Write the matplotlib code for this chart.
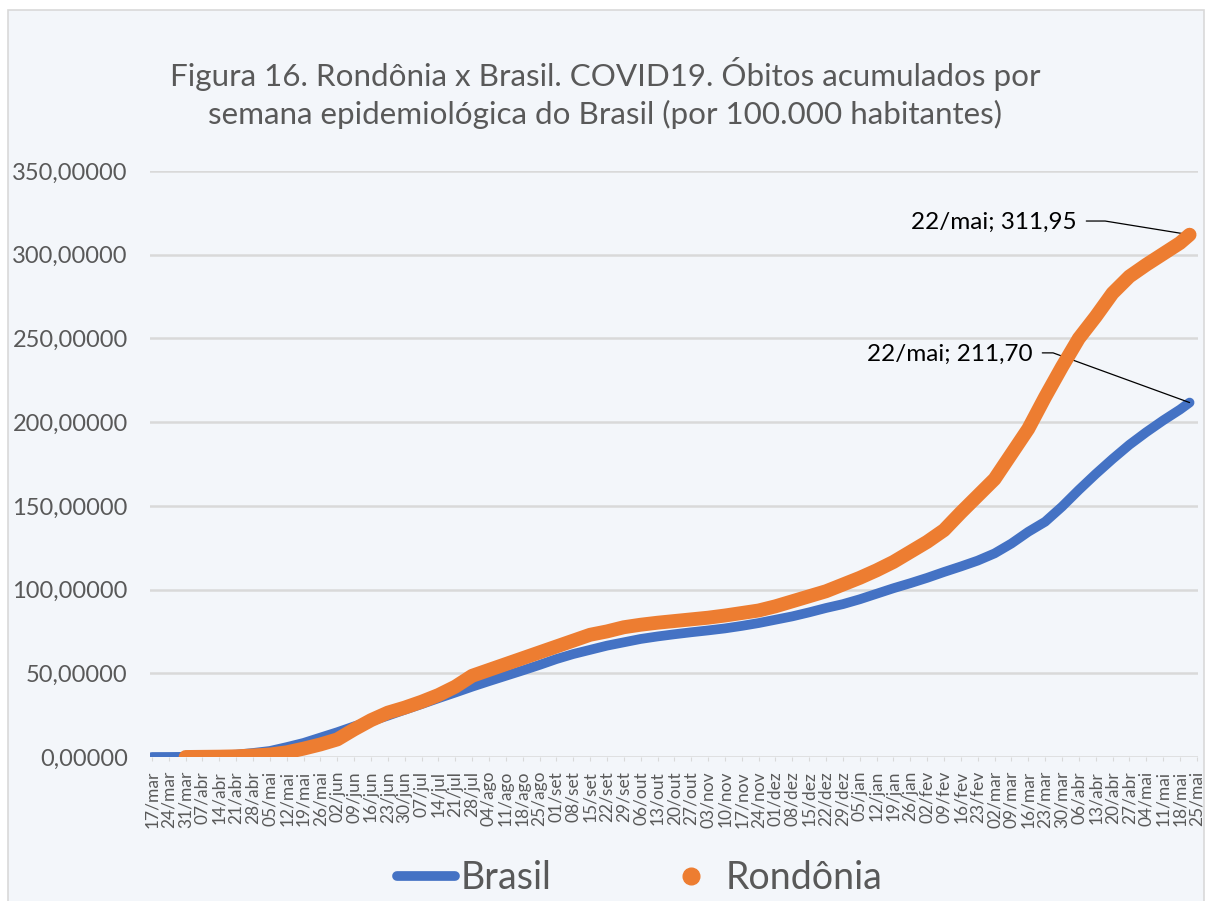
import numpy as np
import matplotlib
matplotlib.use("Agg")
import matplotlib.pyplot as plt
from matplotlib.lines import Line2D
from matplotlib.patches import Rectangle

# weekly axis labels (17/mar/2020 .. 25/mai/2021)
week_labels = ["17/mar", "24/mar", "31/mar", "07/abr", "14/abr", "21/abr", "28/abr", "05/mai",
               "12/mai", "19/mai", "26/mai", "02/jun", "09/jun", "16/jun", "23/jun", "30/jun",
               "07/jul", "14/jul", "21/jul", "28/jul", "04/ago", "11/ago", "18/ago", "25/ago",
               "01/set", "08/set", "15/set", "22/set", "29/set", "06/out", "13/out", "20/out",
               "27/out", "03/nov", "10/nov", "17/nov", "24/nov", "01/dez", "08/dez", "15/dez",
               "22/dez", "29/dez", "05/jan", "12/jan", "19/jan", "26/jan", "02/fev", "09/fev",
               "16/fev", "23/fev", "02/mar", "09/mar", "16/mar", "23/mar", "30/mar", "06/abr",
               "13/abr", "20/abr", "27/abr", "04/mai", "11/mai", "18/mai", "25/mai"]

# deaths per 100k, read at each weekly tick (Brasil from 17/mar, Rondonia from 31/mar)
brasil = [0.0, 0.02, 0.1, 0.4, 0.9, 1.4, 2.4, 3.6, 5.9, 8.4, 11.6, 14.8, 18.3, 21.4, 24.7,
          28.2, 31.6, 35.1, 38.5, 42.0, 45.3, 48.5, 51.7, 55.0, 58.5, 61.5, 64.0, 66.5, 68.5,
          70.5, 72.0, 73.3, 74.5, 75.6, 76.8, 78.3, 80.0, 82.0, 84.0, 86.4, 89.0, 91.3, 94.2,
          97.5, 100.8, 103.8, 107.0, 110.5, 113.8, 117.3, 121.6, 127.5, 134.5, 140.5, 149.5,
          159.5, 169.0, 178.0, 186.5, 194.0, 201.0, 207.5]
rondonia = [0.0, 0.1, 0.2, 0.4, 0.9, 1.5, 2.8, 5.0, 7.5, 10.5, 16.5, 22.0, 26.5, 29.5, 33.0,
            37.0, 42.0, 48.5, 52.0, 55.5, 59.0, 62.5, 66.0, 69.5, 73.0, 75.0, 77.5, 79.0, 80.2,
            81.2, 82.2, 83.2, 84.5, 86.0, 87.5, 90.0, 93.0, 96.0, 99.0, 103.0, 107.0, 111.5,
            116.5, 122.5, 128.5, 135.5, 146.0, 156.0, 166.0, 181.0, 196.0, 215.0, 233.0, 250.0,
            263.0, 277.0, 287.0, 294.0, 300.5, 307.0]
last_label, last_day = "22/mai", 431          # last data day (days since 17/mar/2020)
brasil_last, rondonia_last = 211.70, 311.95

BG, GRID, TXT = "#F3F6FA", "#D9D9D9", "#595959"
BLUE, ORANGE = "#4472C4", "#ED7D31"
plt.rcParams["font.family"] = ["Lato", "DejaVu Sans"]

days_b = list(np.arange(len(brasil)) * 7) + [last_day]
days_r = list((np.arange(len(rondonia)) + 2) * 7) + [last_day]
yb = brasil + [brasil_last]
yr = rondonia + [rondonia_last]

W, H = 1208, 901
fig = plt.figure(figsize=(W / 100, H / 100), dpi=100, facecolor="white")
fig.patches.append(Rectangle((8 / W, -0.01), 1196 / W, 1 - 10 / H + 0.01, transform=fig.transFigure,
                             facecolor=BG, edgecolor=GRID, lw=1.2, zorder=-10))
ax = fig.add_axes([150 / W, 1 - 757 / H, 1048 / W, 586 / H])
ax.set_facecolor("none")

ax.plot(days_b, yb, color=BLUE, lw=7, solid_capstyle="round", solid_joinstyle="round", zorder=3)
ax.plot(days_r, yr, color=ORANGE, lw=10, solid_capstyle="round", solid_joinstyle="round", zorder=4)

ax.set_xlim(-0.8, 434.5)
ax.set_ylim(0, 350)
ax.set_yticks(np.arange(0, 351, 50))
ax.set_yticklabels([f"{v:.5f}".replace(".", ",") for v in np.arange(0, 351, 50)])
ax.set_xticks(np.arange(len(week_labels)) * 7)
ax.set_xticklabels(week_labels, rotation=90)
ax.tick_params(axis="y", length=0, pad=16, labelsize=17, labelcolor=TXT)
ax.tick_params(axis="x", length=3, color=GRID, pad=7, labelsize=12.5, labelcolor=TXT)
ax.yaxis.grid(True, color=GRID, lw=1.8)
ax.set_axisbelow(True)
for s in ax.spines.values():
    s.set_visible(False)

fig.text(605 / W, 1 - 93 / H,
         "Figura 16. Rondônia x Brasil. COVID19. Óbitos acumulados por\n"
         "semana epidemiológica do Brasil (por 100.000 habitantes)",
         ha="center", va="center", fontsize=22.6, color=TXT, linespacing=1.4)

# data labels on the last point
for val, off, angB in [(rondonia_last, (-113, 12), -9.2), (brasil_last, (-157, 48), -20)]:
    ax.annotate(f"{last_label}; {val:.2f}".replace(".", ","), xy=(last_day, val),
                xytext=off, textcoords="offset pixels", ha="right", va="center",
                fontsize=17.5, color="black",
                arrowprops=dict(arrowstyle="-", color="black", lw=0.9, relpos=(1, 0.58),
                                shrinkA=5, shrinkB=0,
                                connectionstyle=f"angle,angleA=0,angleB={angB},rad=0"))

handles = [Line2D([], [], color=BLUE, lw=7, solid_capstyle="round"),
           Line2D([], [], color=ORANGE, lw=0, marker="o", markersize=12)]
fig.legend(handles, ["Brasil", "Rondônia"], ncol=2, loc="center",
           bbox_to_anchor=(640 / W, 1 - 878 / H), frameon=False, fontsize=27,
           handlelength=1.55, handletextpad=0.15, columnspacing=2.95, labelcolor=TXT)

fig.savefig("out.png", dpi=100, facecolor="white")
